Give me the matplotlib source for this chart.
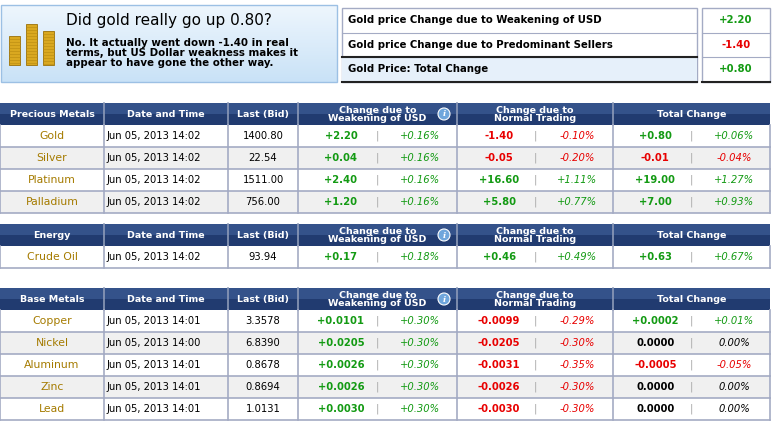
import numpy as np
import matplotlib.pyplot as plt
from matplotlib.patches import Rectangle

# ---- data ----
summary_labels = ["Gold price Change due to Weakening of USD",
                  "Gold price Change due to Predominant Sellers",
                  "Gold Price: Total Change"]
summary_values = ["+2.20", "-1.40", "+0.80"]

headline = "Did gold really go up 0.80?"
subline = ("No. It actually went down -1.40 in real\n"
           "terms, but US Dollar weakness makes it\n"
           "appear to have gone the other way.")

sections = ["Precious Metals", "Energy", "Base Metals"]
names = [["Gold", "Silver", "Platinum", "Palladium"],
         ["Crude Oil"],
         ["Copper", "Nickel", "Aluminum", "Zinc", "Lead"]]
dates = [["Jun 05, 2013 14:02"] * 4,
         ["Jun 05, 2013 14:02"],
         ["Jun 05, 2013 14:01", "Jun 05, 2013 14:00", "Jun 05, 2013 14:01",
          "Jun 05, 2013 14:01", "Jun 05, 2013 14:01"]]
last_bid = [["1400.80", "22.54", "1511.00", "756.00"],
            ["93.94"],
            ["3.3578", "6.8390", "0.8678", "0.8694", "1.0131"]]
usd_chg = [["+2.20", "+0.04", "+2.40", "+1.20"], ["+0.17"],
           ["+0.0101", "+0.0205", "+0.0026", "+0.0026", "+0.0030"]]
usd_pct = [["+0.16%"] * 4, ["+0.18%"], ["+0.30%"] * 5]
trade_chg = [["-1.40", "-0.05", "+16.60", "+5.80"], ["+0.46"],
             ["-0.0099", "-0.0205", "-0.0031", "-0.0026", "-0.0030"]]
trade_pct = [["-0.10%", "-0.20%", "+1.11%", "+0.77%"], ["+0.49%"],
             ["-0.29%", "-0.30%", "-0.35%", "-0.30%", "-0.30%"]]
tot_chg = [["+0.80", "-0.01", "+19.00", "+7.00"], ["+0.63"],
           ["+0.0002", "0.0000", "-0.0005", "0.0000", "0.0000"]]
tot_pct = [["+0.06%", "-0.04%", "+1.27%", "+0.93%"], ["+0.67%"],
           ["+0.01%", "0.00%", "-0.05%", "0.00%", "0.00%"]]

headers = ["Date and Time", "Last (Bid)", "Change due to\nWeakening of USD",
           "Change due to\nNormal Trading", "Total Change"]

# ---- layout (pixels) ----
W, H = 781, 429
col_x = [0, 104, 228, 298, 457, 613, 770]
sec_top = [103, 224, 288]
head_h = 22
row_h = 22

GREEN, RED, BLACK = "#139a13", "#e80000", "#000000"
NAVY = "#213b70"
BORDER = "#a4abc4"
FONT = "DejaVu Sans"


def sign_color(s):
    if s.startswith("+"):
        return GREEN
    if s.startswith("-"):
        return RED
    return BLACK


fig = plt.figure(figsize=(W / 100, H / 100), dpi=100)
ax = fig.add_axes([0, 0, 1, 1])
ax.set_xlim(0, W)
ax.set_ylim(H, 0)
ax.axis("off")

# top left banner with gradient
grad = np.linspace(0, 1, 50).reshape(-1, 1)
ax.imshow(grad, extent=[1, 337, 82, 5], cmap=plt.matplotlib.colors.LinearSegmentedColormap.from_list(
    "b", ["#eef6fd", "#c9e2f7"]), aspect="auto", zorder=0)
ax.add_patch(Rectangle((1, 5), 336, 77, fill=False, ec="#9cc0e4", lw=1))
# coin stacks
for cx, top in [(9, 36), (26, 24), (43, 31)]:
    ax.add_patch(Rectangle((cx, top), 11, 65 - top, fc="#d9a820", ec="#9a7008", lw=0.6, zorder=2))
    for yy in np.arange(top + 3, 65, 3):
        ax.plot([cx, cx + 11], [yy, yy], color="#b88a10", lw=0.4, zorder=3)
ax.text(66, 20, headline, fontsize=11, family=FONT, va="center")
ax.text(66, 53, subline, fontsize=7.4, family=FONT, fontweight="bold",
        va="center", linespacing=1.0)

# top right summary box
ax.add_patch(Rectangle((342, 8), 355, 74, fc="white", ec=BORDER, lw=1))
ax.add_patch(Rectangle((342, 57), 355, 25, fc="#e6f0fa", ec="none"))
ax.add_patch(Rectangle((702, 8), 68, 74, fc="white", ec=BORDER, lw=1))
for i, (lab, val) in enumerate(zip(summary_labels, summary_values)):
    y0 = 8 + i * 24.7
    ax.text(348, y0 + 12, lab, fontsize=7.3, fontweight="bold", family=FONT, va="center")
    ax.text(736, y0 + 12, val, fontsize=7.3, fontweight="bold", family=FONT,
            va="center", ha="center", color=sign_color(val))
    if i:
        ax.plot([342, 697], [y0, y0], color=BORDER, lw=0.8)
        ax.plot([702, 770], [y0, y0], color=BORDER, lw=0.8)
ax.plot([342, 697], [57, 57], color="#222222", lw=1.5)
ax.plot([342, 697], [82, 82], color="#222222", lw=1.5)
ax.plot([702, 770], [82, 82], color="#222222", lw=1.5)

# tables
for s, top in enumerate(sec_top):
    n = len(names[s])
    # header
    ax.add_patch(Rectangle((0, top), 770, head_h, fc=NAVY, ec="none"))
    ax.add_patch(Rectangle((0, top), 770, head_h / 2, fc="#34528a", ec="none"))
    hdr = [sections[s]] + headers
    for c in range(6):
        cx = (col_x[c] + col_x[c + 1]) / 2
        ax.text(cx, top + head_h / 2 + 0.5, hdr[c], color="white", fontsize=6.8,
                fontweight="bold", family=FONT, ha="center", va="center",
                linespacing=0.8)
        if c:
            ax.plot([col_x[c]] * 2, [top, top + head_h], color="#8d9bb8", lw=1.2)
    ax.add_patch(plt.Circle((444, top + 11), 6, fc="#6fa6dc", ec="white", lw=0.8))
    ax.text(444, top + 11.5, "i", color="white", fontsize=6, fontweight="bold",
            style="italic", ha="center", va="center", family="DejaVu Serif")
    # rows
    for r in range(n):
        y0 = top + head_h + r * row_h
        fc = "white" if r % 2 == 0 else "#f0f0f0"
        ax.add_patch(Rectangle((0, y0), 770, row_h, fc=fc, ec="none"))
        yc = y0 + row_h / 2
        kw = dict(fontsize=7.2, family=FONT, va="center")
        ax.text(52, yc, names[s][r], color="#a57b00", ha="center", fontsize=7.8,
                family=FONT, va="center")
        ax.text(107, yc, dates[s][r], ha="left", **kw)
        ax.text(263, yc, last_bid[s][r], ha="center", **kw)
        pairs = [(usd_chg, usd_pct), (trade_chg, trade_pct), (tot_chg, tot_pct)]
        for k, (v, p) in enumerate(pairs):
            x0, x1 = col_x[3 + k], col_x[4 + k]
            w = x1 - x0
            ax.text(x0 + 0.27 * w, yc, v[s][r], ha="center", fontweight="bold",
                    color=sign_color(v[s][r]), **kw)
            ax.text(x0 + 0.5 * w, yc, "|", ha="center", color="#aaaaaa", **kw)
            ax.text(x0 + 0.77 * w, yc, p[s][r], ha="center", style="italic",
                    color=sign_color(p[s][r]), **kw)
        ax.plot([0, 770], [y0 + row_h] * 2, color=BORDER, lw=1.2)
        for c in range(7):
            ax.plot([col_x[c]] * 2, [y0, y0 + row_h], color=BORDER, lw=1.2)

fig.savefig("out.png", dpi=100)
